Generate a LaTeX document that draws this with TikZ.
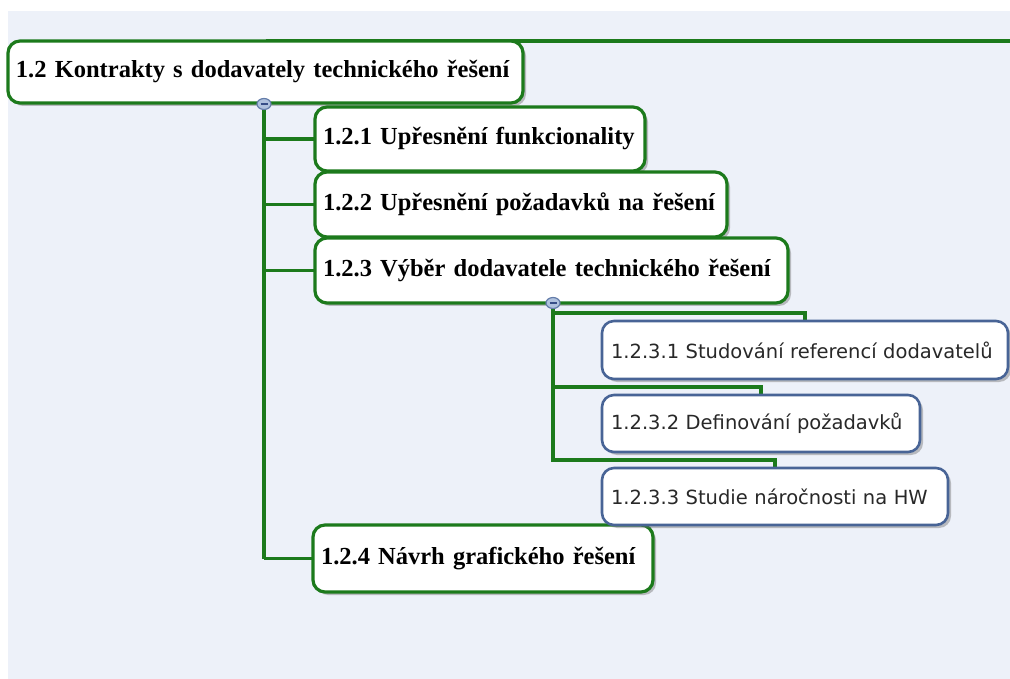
\documentclass[tikz,border=0pt]{standalone}
\usepackage{fontspec}
\setmainfont{Liberation Serif}
\newfontfamily\subfont{DejaVu Sans}
\usetikzlibrary{shadows,shapes.geometric,backgrounds}

\definecolor{mmgreen}{RGB}{28,122,28}
\definecolor{mmblue}{RGB}{72,100,150}
\definecolor{mmbg}{RGB}{237,241,249}
\definecolor{subgray}{RGB}{40,40,40}
\definecolor{dotfill}{RGB}{176,194,222}
\definecolor{dotrim}{RGB}{100,125,170}
\definecolor{dotbar}{RGB}{55,78,135}

\tikzset{
  topic/.style={draw=mmgreen, line width=3.2pt, fill=white, rounded corners=12pt,
    drop shadow={shadow xshift=3pt, shadow yshift=-3pt, fill=black!60, opacity=.4},
    anchor=north west, inner xsep=8pt, inner ysep=0pt, outer sep=0pt, align=left,
    font=\bfseries\fontsize{24.5}{28}\selectfont},
  subtopic/.style={topic, draw=mmblue, line width=2.6pt, inner xsep=9pt, text=subgray,
    font=\subfont\fontsize{19.5}{23}\selectfont},
  link/.style={draw=mmgreen, line width=3.2pt},
  dot/.style={ellipse, draw=dotrim, fill=dotfill, line width=1.2pt,
    minimum width=14pt, minimum height=11pt, inner sep=0pt},
  dotminus/.style={draw=dotbar, line width=1.6pt}
}

\begin{document}
\begin{tikzpicture}[x=1pt, y=-1pt]
			%%%%% START %%%%%
			\useasboundingbox (0,0) rectangle (1010,679);
			
			\node[topic, text width=499pt, minimum height=62pt] (root) at (8,41) {1.2 Kontrakty s dodavately technického řešení};
			\coordinate (edge) at (1010,41);
			
			\node[topic, text width=314pt, minimum height=64pt] (c1) at (315,107) {1.2.1 Upřesnění funkcionality};
			\node[topic, text width=396pt, minimum height=65pt] (c2) at (315,172) {1.2.2 Upřesnění požadavků na řešení};
			\node[topic, text width=457pt, minimum height=65pt] (c3) at (315,238) {1.2.3 Výběr dodavatele technického řešení};
			\node[topic, text width=324pt, minimum height=67pt] (c4) at (313,525) {1.2.4 Návrh grafického řešení};
			
			\node[subtopic, text width=388pt, minimum height=58pt] (s1) at (602,321) {1.2.3.1 Studování referencí dodavatelů};
			\node[subtopic, text width=300pt, minimum height=57pt] (s2) at (602,395) {1.2.3.2 Definování požadavků};
			\node[subtopic, text width=328pt, minimum height=57pt] (s3) at (602,468) {1.2.3.3 Studie náročnosti na HW};
			
			\node[dot] (dot1) at (264,104) {};
			\draw[dotminus] ([xshift=-3.5pt]dot1.center) -- ([xshift=3.5pt]dot1.center);
			\node[dot] (dot2) at (553,303) {};
			\draw[dotminus] ([xshift=-3.5pt]dot2.center) -- ([xshift=3.5pt]dot2.center);
			
			\begin{scope}[on background layer]
			\fill[white] (0,0) rectangle (1010,679);
			\fill[mmbg] (8,11) rectangle (1010,679);
			\draw[link] (root.north) -- (edge);
			
			\draw[link] (dot1) -- (c4.west -| dot1);
			\foreach \c in {c1,c2,c3,c4}
				\draw[link] (\c.west -| dot1) -- (\c.west);
			
			\foreach \s in {s1,s2,s3}
				\draw[link] (dot2) |- ([yshift=8pt]\s.north) -- (\s.north);
			\end{scope}
			%%%%% END %%%%%
\end{tikzpicture}
\end{document}
